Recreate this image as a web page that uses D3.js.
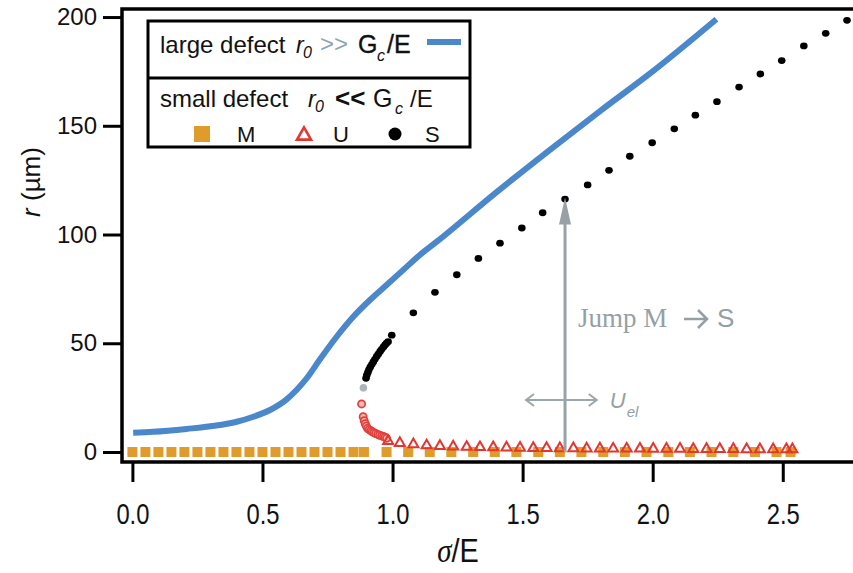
<!DOCTYPE html>
<html>
<head>
<meta charset="utf-8">
<script src="https://cdn.jsdelivr.net/npm/d3@7"></script>
<style>
  body { margin: 0; background: #fff; }
  svg { display: block; }
</style>
</head>
<body>
<svg id="chart" width="853" height="573"></svg>
<script>
// ---- axis ticks ----
const xTicks = [0, 0.5, 1.0, 1.5, 2.0, 2.5];
const yTicks = [0, 50, 100, 150, 200];

// ---- large defect, r0 >> Gc/E (continuous curve) ----
const largeSigma = [0.003, 0.080, 0.208, 0.336, 0.401, 0.465, 0.529, 0.593, 0.631, 0.670, 0.721, 0.785, 0.849, 0.913, 0.977, 1.041, 1.105, 1.170, 1.400, 1.600, 1.800, 2.000, 2.245];
const largeR     = [8.9,   9.3,   10.6,  12.4,  13.9,  16.2,  19.3,  24.2,  28.5,  33.9,  42.6,  53.0,  62.2,  69.9,  76.8,  83.7,  90.6,  96.7,  119.5, 138.5, 157.0, 175.0, 199.0];

// ---- small defect, branch M (metastable) ----
const mSigma = [0.00, 0.05, 0.10, 0.15, 0.20, 0.25, 0.30, 0.35, 0.40, 0.45, 0.50, 0.55, 0.60, 0.65, 0.70, 0.75, 0.80, 0.85, 0.89,
                0.977, 1.060, 1.143, 1.226, 1.310, 1.393, 1.476, 1.560, 1.643, 1.726, 1.810, 1.893, 1.976, 2.060, 2.143, 2.226, 2.310, 2.393, 2.476, 2.530];
const mR     = [0, 0, 0, 0, 0, 0, 0, 0, 0, 0, 0, 0, 0, 0, 0, 0, 0, 0, 0,
                0, 0, 0, 0, 0, 0, 0, 0, 0, 0, 0, 0, 0, 0, 0, 0, 0, 0, 0, 0];

// ---- branch U (unstable), points near the turning point ----
const uNearSigma = [0.881, 0.887, 0.891, 0.895, 0.899, 0.904, 0.910, 0.916, 0.922, 0.928, 0.935, 0.943, 0.950, 0.958, 0.965, 0.971, 0.977];
const uNearR     = [22.1,  16.2,  14.4,  13.0,  11.9,  10.9,  10.3,  9.8,   9.3,   8.9,   8.5,   8.1,   7.7,   7.4,   7.1,   6.8,   6.3];

// ---- branch U (unstable) ----
const uSigma = [0.983, 1.028, 1.080, 1.131, 1.182, 1.233, 1.285, 1.336, 1.387, 1.438, 1.490, 1.541, 1.592, 1.643, 1.695, 1.746,
                1.797, 1.848, 1.900, 1.951, 2.002, 2.053, 2.105, 2.156, 2.207, 2.258, 2.310, 2.361, 2.412, 2.463, 2.514, 2.537];
const uR     = [5.2, 4.3, 3.7, 3.2, 2.9, 2.7, 2.5, 2.4, 2.3, 2.2, 2.1, 2.0, 2.0, 1.9, 1.9, 1.8,
                1.8, 1.7, 1.7, 1.7, 1.6, 1.6, 1.6, 1.5, 1.5, 1.5, 1.5, 1.4, 1.4, 1.4, 1.4, 1.4];

// ---- branch S (stable) ----
const sSigma = [0.898, 0.901, 0.905, 0.909, 0.914, 0.920, 0.926, 0.932, 0.939, 0.945, 0.952, 0.958, 0.965, 0.971, 0.977, 0.983,
                0.997, 1.080, 1.163, 1.247, 1.330, 1.413, 1.497, 1.577, 1.663, 1.750, 1.832, 1.912, 1.998, 2.083, 2.164, 2.247,
                2.332, 2.414, 2.496, 2.581, 2.665, 2.747];
const sR     = [33.9, 35.3, 36.6, 37.8, 39.0, 40.2, 41.4, 42.6, 43.9, 45.0, 46.2, 47.2, 48.3, 49.2, 50.0, 50.7,
                53.7, 64.0, 73.4, 81.5, 89.0, 96.0, 103.0, 110.0, 116.3, 122.8, 129.5, 136.0, 142.2, 148.6, 154.9, 161.1,
                167.8, 173.8, 180.0, 186.7, 192.5, 198.5];

// ---- point where U meets S ----
const turnSigma = [0.888];
const turnR     = [29.5];

// ---- annotations ----
const jumpSigma = 1.663, jumpFromR = 0, jumpToR = 117;
const uelSigma = [1.513, 1.785], uelR = 23.9;

// ---- layout ----
const SANS = "'Liberation Sans', Arial, Helvetica, sans-serif";
const SERIF = "'Liberation Serif', 'Times New Roman', serif";
const svg = d3.select("#chart");
const plot = { left: 122, right: 853, top: 9, bottom: 462 };

const x = d3.scaleLinear().domain([-0.04, 2.77]).range([plot.left, plot.right]);
const y = d3.scaleLinear().domain([-4.6, 203.7]).range([plot.bottom, plot.top]);

const BLUE = "#4a87cb", ORANGE = "#e09b2d", RED = "#e5352f", GREY = "#98a1a5", NOTE = "#94a0a5";

// large defect curve
svg.append("path")
  .datum(d3.zip(largeSigma, largeR))
  .attr("fill", "none")
  .attr("stroke", BLUE)
  .attr("stroke-width", 6)
  .attr("d", d3.line().x(d => x(d[0])).y(d => y(d[1])).curve(d3.curveMonotoneX));

// M squares
const sq = 10;
svg.append("g").selectAll("rect")
  .data(d3.zip(mSigma, mR))
  .join("rect")
  .attr("x", d => x(d[0]) - sq / 2)
  .attr("y", d => y(d[1]) - sq / 2)
  .attr("width", sq).attr("height", sq)
  .attr("fill", ORANGE);

// open triangle path centred on the point
function tri(s) {
  const h = s * 0.87;
  return `M0,${-h * 0.62}L${s / 2},${h * 0.38}L${-s / 2},${h * 0.38}Z`;
}

// U near the turning point
svg.append("g").selectAll("circle")
  .data(d3.zip(uNearSigma, uNearR))
  .join("circle")
  .attr("cx", d => x(d[0])).attr("cy", d => y(d[1]))
  .attr("r", 3.6)
  .attr("fill", "#f3b9b7")
  .attr("stroke", "#e23f3c")
  .attr("stroke-width", 1.7);

// U triangles
svg.append("g").selectAll("path")
  .data(d3.zip(uSigma, uR))
  .join("path")
  .attr("transform", d => `translate(${x(d[0])},${y(d[1])})`)
  .attr("d", tri(10))
  .attr("fill", "none")
  .attr("stroke", RED)
  .attr("stroke-width", 2);

// S dots
svg.append("g").selectAll("ellipse")
  .data(d3.zip(sSigma, sR))
  .join("ellipse")
  .attr("cx", d => x(d[0])).attr("cy", d => y(d[1]))
  .attr("rx", 3.8).attr("ry", 3.4)
  .attr("fill", "#000");

// turning point
svg.append("g").selectAll("circle")
  .data(d3.zip(turnSigma, turnR))
  .join("circle")
  .attr("cx", d => x(d[0])).attr("cy", d => y(d[1]))
  .attr("r", 3.8)
  .attr("fill", "#adb5ba");

// ---- jump arrow M -> S ----
const jx = x(jumpSigma), jTop = y(jumpToR), jBot = y(jumpFromR);
svg.append("line")
  .attr("x1", jx).attr("x2", jx)
  .attr("y1", jBot).attr("y2", jTop + 20)
  .attr("stroke", GREY).attr("stroke-width", 3);
svg.append("path")
  .attr("d", `M${jx},${jTop}L${jx + 6},${jTop + 27}L${jx - 6},${jTop + 27}Z`)
  .attr("fill", GREY);

const jumpLabel = svg.append("g").attr("fill", NOTE);
jumpLabel.append("text").attr("x", 578).attr("y", 327)
  .attr("font-family", SERIF).attr("font-size", 27).text("Jump M");
// arrow glyph of the label, drawn as strokes
jumpLabel.append("path")
  .attr("d", "M684,319H707M698,310L707,319L698,328")
  .attr("fill", "none").attr("stroke", NOTE).attr("stroke-width", 2.6);
jumpLabel.append("text").attr("x", 717).attr("y", 327)
  .attr("font-family", SANS).attr("font-size", 26).text("S");

// ---- elastic energy double arrow ----
const ux1 = x(uelSigma[0]), ux2 = x(uelSigma[1]), uy = y(uelR);
svg.append("path")
  .attr("d", `M${ux1},${uy}L${ux2},${uy}M${ux1 + 8},${uy - 6}L${ux1},${uy}L${ux1 + 8},${uy + 6}M${ux2 - 8},${uy - 6}L${ux2},${uy}L${ux2 - 8},${uy + 6}`)
  .attr("fill", "none")
  .attr("stroke", "#9ba7ac").attr("stroke-width", 2);
svg.append("text")
  .attr("x", ux2 + 13).attr("y", uy + 8)
  .attr("font-family", SANS).attr("font-style", "italic")
  .attr("font-size", 22).attr("fill", NOTE)
  .text("U");
svg.append("text")
  .attr("x", ux2 + 30).attr("y", uy + 17)
  .attr("font-family", SANS).attr("font-style", "italic")
  .attr("font-size", 15).attr("fill", NOTE)
  .text("el");

// ---- axes ----
const axisColor = "#000";
const gx = svg.append("g")
  .attr("transform", `translate(0,${plot.bottom})`)
  .call(d3.axisBottom(x).tickValues(xTicks).tickSize(20).tickPadding(21).tickFormat(d3.format(".1f")));
const gy = svg.append("g")
  .attr("transform", `translate(${plot.left},0)`)
  .call(d3.axisLeft(y).tickValues(yTicks).tickSize(19).tickPadding(6).tickFormat(d3.format("d")));
[gx, gy].forEach(g => {
  g.select(".domain").remove();
  g.selectAll(".tick line").attr("stroke", axisColor).attr("stroke-width", 3);
  g.selectAll(".tick text").attr("font-family", SANS).attr("fill", "#111");
});
gy.selectAll(".tick text").attr("font-size", 24);
gx.selectAll(".tick text").attr("font-size", 29).attr("transform", "scale(0.82,1)");

// frame
svg.append("path")
  .attr("d", `M${plot.right},${plot.top}H${plot.left}V${plot.bottom}H${plot.right}`)
  .attr("fill", "none").attr("stroke", axisColor).attr("stroke-width", 3.5);

// axis titles
svg.append("text")
  .attr("transform", "translate(40,182) rotate(-90)")
  .attr("text-anchor", "middle")
  .attr("font-family", SANS).attr("font-size", 26).attr("fill", "#111")
  .call(t => {
    t.append("tspan").attr("font-style", "italic").text("r");
    t.append("tspan").text(" (\u00b5m)");
  });
svg.append("g")
  .attr("transform", "translate(458,562) scale(0.85,1)")
  .append("text")
  .attr("text-anchor", "middle")
  .attr("font-size", 34).attr("fill", "#111")
  .call(t => {
    t.append("tspan").attr("font-family", SERIF).attr("font-style", "italic").text("\u03c3");
    t.append("tspan").attr("font-family", SANS).text("/E");
  });

// ---- legend ----
const lg = svg.append("g");
lg.append("rect")
  .attr("x", 148).attr("y", 21).attr("width", 322).attr("height", 126)
  .attr("fill", "#fff").attr("stroke", "#000").attr("stroke-width", 3);
lg.append("line")
  .attr("x1", 148).attr("x2", 470).attr("y1", 78).attr("y2", 78)
  .attr("stroke", "#000").attr("stroke-width", 3);

function lt(txt, xx, yy, size, opts = {}) {
  return lg.append("text")
    .attr("x", xx).attr("y", yy)
    .attr("font-family", opts.family || SANS)
    .attr("font-size", size)
    .attr("font-style", opts.italic ? "italic" : "normal")
    .attr("font-weight", opts.bold ? "bold" : "normal")
    .attr("fill", opts.fill || "#111")
    .attr("stroke", opts.heavy ? "#111" : "none")
    .attr("stroke-width", opts.heavy ? 0.35 : 0)
    .text(txt);
}
// row 1
lt("large defect", 160, 53, 24);
lt("r", 296, 53, 23, { italic: true });
lt("0", 303, 58, 16, { italic: true });
lt(">>", 320, 52, 24, { fill: "#8aa6b8" });
lt("G", 358, 53, 25, { heavy: true });
lt("c", 377, 61, 16, { italic: true });
lt("/E", 387, 53, 25, { heavy: true });
lg.append("line")
  .attr("x1", 427).attr("x2", 461).attr("y1", 42).attr("y2", 42)
  .attr("stroke", BLUE).attr("stroke-width", 6);
// row 2
lt("small defect", 160, 107, 24);
lt("r", 308, 107, 23, { italic: true });
lt("0", 315, 112, 16, { italic: true });
lt("<<", 335, 107, 26, { bold: true });
lt("G", 373, 107, 25);
lt("c", 395, 114, 16, { italic: true });
lt("/E", 410, 107, 24);
// row 3
lg.append("rect").attr("x", 194).attr("y", 126).attr("width", 16).attr("height", 16).attr("fill", ORANGE);
lt("M", 237, 142, 22);
lg.append("path").attr("transform", "translate(304,135)").attr("d", tri(14))
  .attr("fill", "none").attr("stroke", RED).attr("stroke-width", 2.6);
lt("U", 333, 142, 22);
lg.append("circle").attr("cx", 395).attr("cy", 134).attr("r", 6.5).attr("fill", "#000");
lt("S", 425, 142, 22);
</script>
</body>
</html>
